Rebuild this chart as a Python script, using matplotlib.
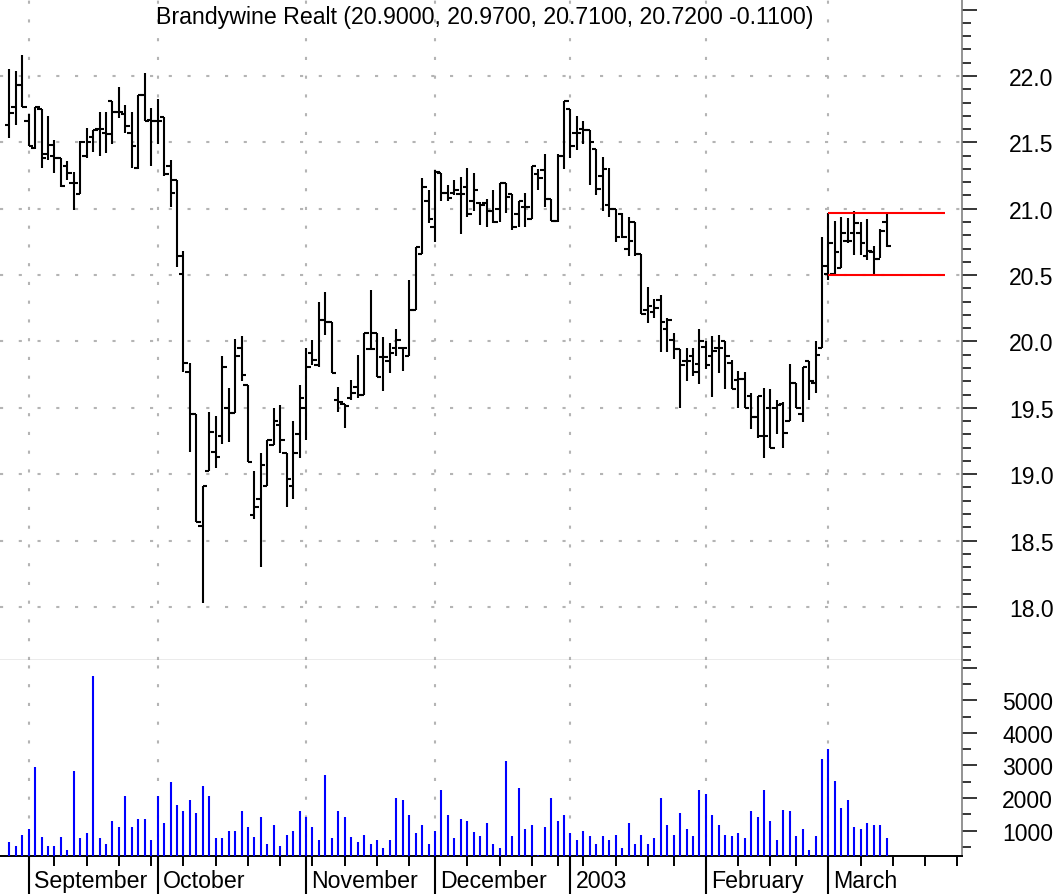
import matplotlib
matplotlib.use("Agg")
import matplotlib.pyplot as plt
import matplotlib.transforms as mtransforms
from matplotlib.ticker import FixedLocator, MultipleLocator, FuncFormatter
import numpy as np
import pandas as pd

plt.rcParams['font.family'] = ['Liberation Sans', 'DejaVu Sans']

# trading calendar (NYSE holidays in range)
holidays = ['2002-09-02', '2002-11-28', '2002-12-25', '2003-01-01', '2003-01-20', '2003-02-17']
days = pd.bdate_range('2002-08-28', '2003-03-31', freq='C', holidays=holidays)

month_names = ["September", "October", "November", "December", "2003", "February", "March"]

opens = [21.63, 21.77, 21.93, 21.66, 21.46, 21.75, 21.41, 21.40, 21.38, 21.32,
         21.19, 21.11, 21.40, 21.54, 21.60, 21.57, 21.81, 21.73, 21.71, 21.57,
         21.31, 21.86, 21.67, 21.66, 21.69, 21.32, 21.22, 20.51, 19.77, 19.45,
         18.61, 19.02, 19.17, 19.29, 19.50, 19.46, 19.95, 19.67, 18.69, 18.81,
         18.91, 19.22, 19.37, 19.16, 18.91, 19.30, 19.50, 19.91, 19.82, 20.16,
         20.15, 19.56, 19.53, 19.57, 19.66, 19.60, 19.94, 20.06, 19.88, 19.85,
         19.95, 19.95, 19.89, 20.24, 20.66, 21.06, 20.86, 21.27, 21.12, 21.12,
         21.11, 21.16, 21.06, 21.04, 21.04, 20.98, 21.00, 21.19, 21.11, 20.96,
         21.01, 20.92, 21.26, 21.29, 21.07, 20.91, 21.40, 21.75, 21.57, 21.60,
         21.59, 21.45, 21.25, 21.03, 21.00, 20.96, 20.70, 20.90, 20.66, 20.24,
         20.22, 20.31, 20.09, 20.01, 19.94, 19.85, 19.89, 19.83, 19.96, 19.89,
         19.95, 20.00, 19.84, 19.71, 19.72, 19.59, 19.43, 19.29, 19.50, 19.50,
         19.53, 19.40, 19.69, 19.45, 19.85, 19.69, 19.95, 20.51, 20.51, 20.55,
         20.76, 20.82, 20.82, 20.64, 20.67, 20.62, 20.90]

highs = [22.05, 22.04, 22.16, 21.71, 21.77, 21.75, 21.70, 21.52, 21.38, 21.36,
         21.28, 21.51, 21.61, 21.59, 21.73, 21.73, 21.81, 21.92, 21.78, 21.73,
         21.86, 22.02, 21.76, 21.83, 21.69, 21.37, 21.22, 20.68, 19.84, 19.45,
         18.91, 19.47, 19.44, 19.89, 19.65, 20.02, 20.04, 19.67, 19.02, 19.16,
         19.26, 19.50, 19.52, 19.16, 19.40, 19.67, 19.95, 20.01, 20.30, 20.37,
         20.15, 19.66, 19.53, 19.71, 19.90, 20.06, 20.39, 20.06, 20.03, 19.99,
         20.09, 19.96, 20.46, 20.71, 21.23, 21.14, 21.29, 21.27, 21.18, 21.22,
         21.24, 21.31, 21.27, 21.05, 21.07, 21.14, 21.19, 21.19, 21.11, 21.06,
         21.12, 21.32, 21.30, 21.41, 21.07, 21.41, 21.81, 21.75, 21.70, 21.66,
         21.59, 21.45, 21.39, 21.31, 21.00, 20.97, 20.94, 20.90, 20.66, 20.41,
         20.32, 20.35, 20.18, 20.06, 19.94, 19.95, 19.95, 20.09, 20.00, 20.04,
         20.05, 20.00, 19.86, 19.78, 19.77, 19.61, 19.59, 19.65, 19.64, 19.56,
         19.54, 19.83, 19.69, 19.81, 19.85, 20.00, 20.79, 20.97, 20.91, 20.94,
         20.93, 20.98, 20.90, 20.92, 20.72, 20.85, 20.97]

lows = [21.53, 21.63, 21.77, 21.47, 21.45, 21.31, 21.37, 21.27, 21.16, 21.22,
        20.99, 21.11, 21.38, 21.43, 21.40, 21.42, 21.49, 21.68, 21.57, 21.31,
        21.30, 21.66, 21.32, 21.49, 21.25, 21.01, 20.56, 19.77, 19.17, 18.64,
        18.03, 19.02, 19.05, 19.23, 19.24, 19.46, 19.70, 19.09, 18.66, 18.30,
        18.91, 19.22, 19.16, 18.75, 18.81, 19.12, 19.26, 19.82, 19.81, 20.05,
        19.76, 19.47, 19.35, 19.56, 19.57, 19.60, 19.94, 19.73, 19.63, 19.76,
        19.89, 19.78, 19.89, 20.24, 20.66, 20.89, 20.75, 21.06, 21.06, 21.10,
        20.81, 20.94, 20.98, 20.88, 20.86, 20.89, 20.90, 20.97, 20.84, 20.86,
        20.86, 20.92, 21.14, 21.01, 20.91, 20.90, 21.30, 21.38, 21.44, 21.49,
        21.18, 21.10, 20.98, 20.94, 20.75, 20.78, 20.64, 20.64, 20.21, 20.14,
        20.18, 19.92, 19.92, 19.87, 19.50, 19.70, 19.74, 19.68, 19.79, 19.58,
        19.76, 19.64, 19.64, 19.50, 19.50, 19.34, 19.27, 19.12, 19.20, 19.30,
        19.20, 19.40, 19.50, 19.39, 19.56, 19.61, 19.95, 20.46, 20.51, 20.55,
        20.74, 20.65, 20.65, 20.61, 20.51, 20.63, 20.71]

closes = [21.72, 21.93, 21.77, 21.47, 21.77, 21.38, 21.48, 21.38, 21.17, 21.27,
          21.19, 21.50, 21.50, 21.59, 21.60, 21.56, 21.73, 21.73, 21.62, 21.47,
          21.86, 21.66, 21.66, 21.66, 21.26, 21.12, 20.64, 19.84, 19.45, 18.64,
          18.91, 19.32, 19.13, 19.81, 19.46, 19.89, 19.75, 19.09, 18.75, 19.07,
          19.26, 19.40, 19.26, 18.96, 19.16, 19.57, 19.81, 19.86, 20.16, 20.15,
          19.76, 19.54, 19.51, 19.61, 19.60, 20.06, 19.94, 19.73, 19.88, 19.91,
          20.01, 19.95, 20.24, 20.71, 21.16, 20.92, 21.28, 21.12, 21.08, 21.14,
          21.11, 20.96, 21.14, 21.03, 20.98, 20.90, 21.19, 21.09, 20.86, 21.06,
          21.01, 21.32, 21.23, 21.07, 20.91, 21.40, 21.81, 21.47, 21.57, 21.59,
          21.50, 21.15, 21.30, 21.00, 20.79, 20.79, 20.76, 20.66, 20.21, 20.27,
          20.25, 20.15, 20.16, 19.94, 19.82, 19.85, 19.77, 20.00, 19.82, 19.93,
          19.95, 19.89, 19.64, 19.72, 19.50, 19.43, 19.59, 19.29, 19.20, 19.52,
          19.31, 19.69, 19.50, 19.81, 19.70, 19.90, 20.57, 20.74, 20.67, 20.82,
          20.76, 20.89, 20.74, 20.68, 20.62, 20.83, 20.72]

volumes = [640, 510, 870, 1060, 2950, 810, 510, 510, 810, 400,
           2830, 760, 930, 5750, 760, 580, 1290, 1120, 2060, 1120,
           1350, 1350, 700, 2060, 1230, 2480, 1770, 1590, 1940, 1530,
           2360, 2060, 760, 760, 1000, 1000, 1590, 1120, 810, 1410,
           580, 1170, 510, 870, 1000, 1590, 1410, 1120, 700, 2720,
           760, 1590, 1410, 810, 640, 870, 580, 700, 460, 700,
           2000, 1940, 1470, 930, 1170, 580, 1000, 2240, 1470, 760,
           1350, 1290, 940, 820, 1230, 590, 460, 3130, 820, 2300,
           1050, 1180, 250, 1120, 2000, 1290, 1470, 930, 700, 1000,
           820, 590, 820, 700, 870, 460, 1230, 590, 870, 590,
           760, 2000, 1180, 870, 1530, 1060, 820, 2240, 2120, 1470,
           1180, 870, 820, 930, 760, 1590, 1410, 2240, 1290, 700,
           1640, 1590, 820, 1060, 400, 820, 3190, 3510, 2530, 1700,
           1940, 1120, 1060, 1230, 1180, 1180, 760]

# channel lines drawn on the last leg
channel_levels = [20.97, 20.50]
channel_span = (127, 145)

title = "Brandywine Realt (20.9000, 20.9700, 20.7100, 20.7200 -0.1100)"

n = len(closes)
x = np.arange(n)

months = days.month
month_starts = [i for i in range(1, len(days)) if months[i] != months[i - 1]]
week_starts = [i for i in range(1, len(days)) if days[i].weekday() < days[i - 1].weekday()]

fig = plt.figure(figsize=(10.61, 8.95), dpi=100)
ax = fig.add_axes([0.0, 0.2615, 0.9067, 0.7385])
axv = fig.add_axes([0.0, 0.0421, 0.9067, 0.2194], sharex=ax)

grid_kw = dict(color='#b4b4b4', lw=1.5, linestyle=(0, (1.5, 7.5)), zorder=0)

# price panel
for lvl in np.arange(18.0, 22.01, 0.5):
    ax.axhline(lvl, **grid_kw)
for s in month_starts:
    ax.axvline(s, **grid_kw)
    axv.axvline(s, **grid_kw)

tick = 0.7
ax.vlines(x, lows, highs, color='black', lw=1.5, zorder=3)
ax.hlines(opens, x - tick, x, color='black', lw=1.5, zorder=3)
ax.hlines(closes, x, x + tick, color='black', lw=1.5, zorder=3)
ax.hlines(channel_levels, channel_span[0], channel_span[1], color='#ff0000', lw=1.5, zorder=4)

ax.text(0.504, 0.973, title, transform=ax.transAxes, ha='center', va='center', fontsize=16.7)

ax.set_xlim(-1.44, 147.7)
ax.set_ylim(17.6, 22.58)

for a in (ax, axv):
    a.spines['top'].set_visible(False)
    a.spines['left'].set_visible(False)
    a.spines['right'].set_color('#808080')
    a.spines['right'].set_linewidth(1.2)
    a.yaxis.tick_right()

ax.spines['bottom'].set_color('#999999')
ax.spines['bottom'].set_linewidth(1.0)
ax.tick_params(axis='x', bottom=False, labelbottom=False)

ax.yaxis.set_major_locator(FixedLocator(np.arange(18.0, 22.51, 0.5)))
ax.yaxis.set_minor_locator(MultipleLocator(0.1))
ax.yaxis.set_major_formatter(FuncFormatter(lambda v, p: f"{v:.1f}" if v < 22.2 else ""))
ax.tick_params(axis='y', which='major', length=10.8, width=1.1, labelsize=16.5, pad=23)
ax.tick_params(axis='y', which='minor', length=6.5, width=1.1)

# volume panel
axv.vlines(x, 0, volumes, color='#0000ff', lw=1.5, zorder=3)
axv.set_ylim(206, 6246)
axv.yaxis.set_major_locator(FixedLocator(np.arange(1000, 6001, 1000)))
axv.yaxis.set_minor_locator(FixedLocator(np.arange(500, 6001, 1000)))
axv.yaxis.set_major_formatter(FuncFormatter(lambda v, p: f"{int(v)}" if v < 5500 else ""))
axv.tick_params(axis='y', which='major', length=10.8, width=1.1, labelsize=16.5, pad=18)
axv.tick_params(axis='y', which='minor', length=6.5, width=1.1)

axv.spines['bottom'].set_color('black')
axv.spines['bottom'].set_linewidth(1.4)
axv.set_xticks(week_starts)
axv.tick_params(axis='x', length=7.2, width=1.4, labelbottom=False)

trans = axv.get_xaxis_transform()
label_trans = mtransforms.offset_copy(trans, fig=fig, x=5, y=0, units='dots')
for s, name in zip(month_starts, month_names):
    axv.plot([s, s], [0, -0.2], transform=trans, color='black', lw=1.5, clip_on=False)
    axv.text(s, -0.156, name, transform=label_trans, ha='left', va='baseline', fontsize=16.7)

fig.savefig('out.png', dpi=100)
